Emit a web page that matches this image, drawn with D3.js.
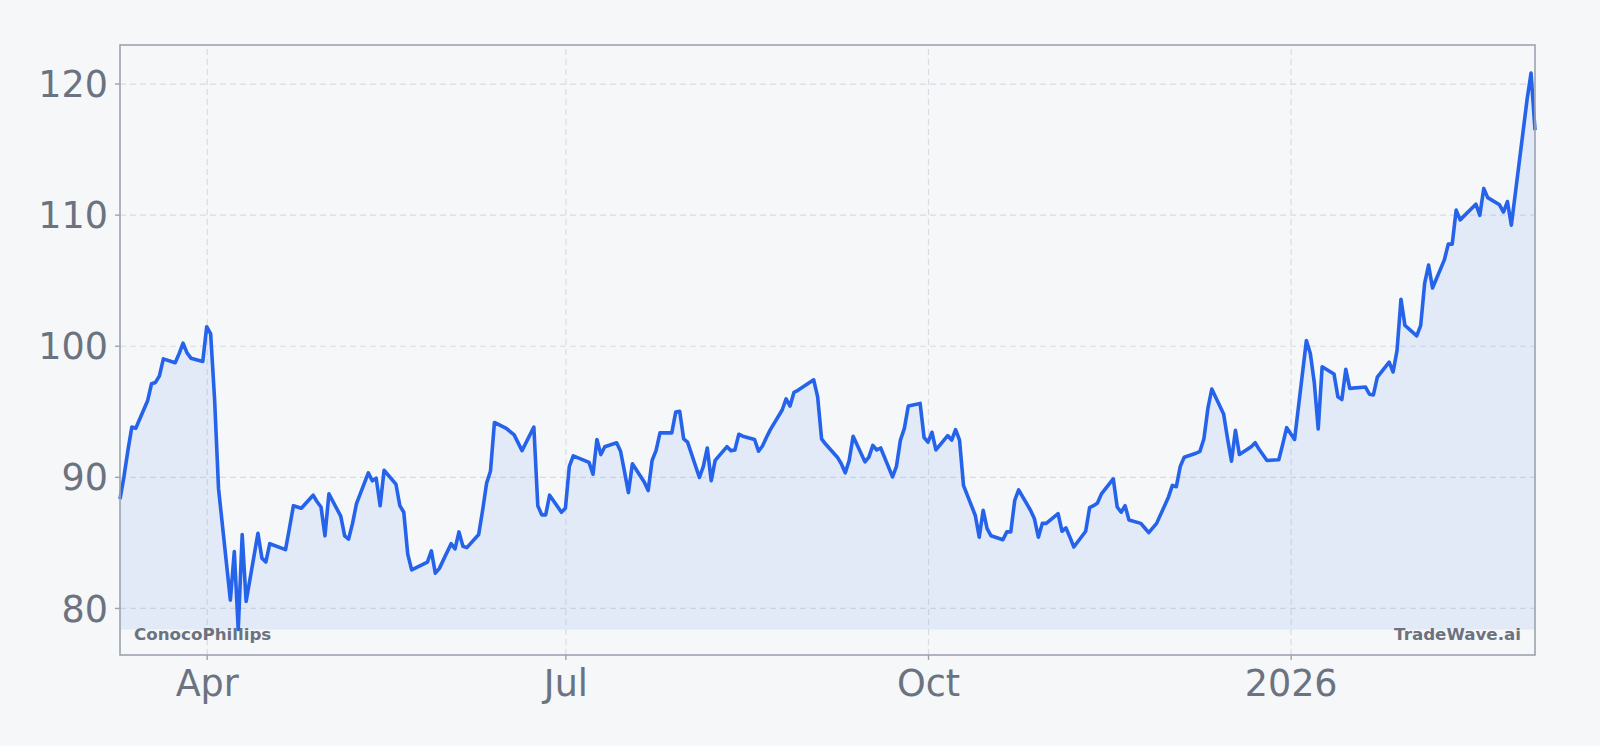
<!DOCTYPE html>
<html lang='en'>
<head>
  <meta charset='UTF-8'>
  <title>ConocoPhillips</title>
  <style>
    body { margin: 0; background: #f5f7f9; }
    #chart text { font-family: 'DejaVu Sans', sans-serif; }
    .tick-label { fill: #6b7280; font-size: 36.5px; }
    .grid line { stroke: #d8dce2; stroke-width: 1.2; stroke-dasharray: 6, 4; }
    .brand { fill: #6b7280; font-size: 16.7px; font-weight: bold; }
  </style>
</head>
<body>
<div id='chart'></div>
<script src='https://d3js.org/d3.v7.min.js'></script>
<script>
  // trading days, one line per month
  var dates = [
    '2025-03-10', '2025-03-11', '2025-03-12', '2025-03-13', '2025-03-14', '2025-03-17', '2025-03-18', '2025-03-19', '2025-03-20', '2025-03-21', '2025-03-24', '2025-03-25', '2025-03-26', '2025-03-27', '2025-03-28', '2025-03-31',
    '2025-04-01', '2025-04-02', '2025-04-03', '2025-04-04', '2025-04-07', '2025-04-08', '2025-04-09', '2025-04-10', '2025-04-11', '2025-04-14', '2025-04-15', '2025-04-16', '2025-04-17', '2025-04-21', '2025-04-22', '2025-04-23', '2025-04-24', '2025-04-25', '2025-04-28', '2025-04-29', '2025-04-30',
    '2025-05-01', '2025-05-02', '2025-05-05', '2025-05-06', '2025-05-07', '2025-05-08', '2025-05-09', '2025-05-12', '2025-05-13', '2025-05-14', '2025-05-15', '2025-05-16', '2025-05-19', '2025-05-20', '2025-05-21', '2025-05-22', '2025-05-23', '2025-05-27', '2025-05-28', '2025-05-29', '2025-05-30',
    '2025-06-02', '2025-06-03', '2025-06-04', '2025-06-05', '2025-06-06', '2025-06-09', '2025-06-10', '2025-06-11', '2025-06-12', '2025-06-13', '2025-06-16', '2025-06-17', '2025-06-18', '2025-06-20', '2025-06-23', '2025-06-24', '2025-06-25', '2025-06-26', '2025-06-27', '2025-06-30',
    '2025-07-01', '2025-07-02', '2025-07-03', '2025-07-07', '2025-07-08', '2025-07-09', '2025-07-10', '2025-07-11', '2025-07-14', '2025-07-15', '2025-07-16', '2025-07-17', '2025-07-18', '2025-07-21', '2025-07-22', '2025-07-23', '2025-07-24', '2025-07-25', '2025-07-28', '2025-07-29', '2025-07-30', '2025-07-31',
    '2025-08-01', '2025-08-04', '2025-08-05', '2025-08-06', '2025-08-07', '2025-08-08', '2025-08-11', '2025-08-12', '2025-08-13', '2025-08-14', '2025-08-15', '2025-08-18', '2025-08-19', '2025-08-20', '2025-08-21', '2025-08-22', '2025-08-25', '2025-08-26', '2025-08-27', '2025-08-28', '2025-08-29',
    '2025-09-02', '2025-09-03', '2025-09-04', '2025-09-05', '2025-09-08', '2025-09-09', '2025-09-10', '2025-09-11', '2025-09-12', '2025-09-15', '2025-09-16', '2025-09-17', '2025-09-18', '2025-09-19', '2025-09-22', '2025-09-23', '2025-09-24', '2025-09-25', '2025-09-26', '2025-09-29', '2025-09-30',
    '2025-10-01', '2025-10-02', '2025-10-03', '2025-10-06', '2025-10-07', '2025-10-08', '2025-10-09', '2025-10-10', '2025-10-13', '2025-10-14', '2025-10-15', '2025-10-16', '2025-10-17', '2025-10-20', '2025-10-21', '2025-10-22', '2025-10-23', '2025-10-24', '2025-10-27', '2025-10-28', '2025-10-29', '2025-10-30', '2025-10-31',
    '2025-11-03', '2025-11-04', '2025-11-05', '2025-11-06', '2025-11-07', '2025-11-10', '2025-11-11', '2025-11-12', '2025-11-13', '2025-11-14', '2025-11-17', '2025-11-18', '2025-11-19', '2025-11-20', '2025-11-21', '2025-11-24', '2025-11-25', '2025-11-26', '2025-11-28',
    '2025-12-01', '2025-12-02', '2025-12-03', '2025-12-04', '2025-12-05', '2025-12-08', '2025-12-09', '2025-12-10', '2025-12-11', '2025-12-12', '2025-12-15', '2025-12-16', '2025-12-17', '2025-12-18', '2025-12-19', '2025-12-22', '2025-12-23', '2025-12-24', '2025-12-26', '2025-12-29', '2025-12-30', '2025-12-31',
    '2026-01-02', '2026-01-05', '2026-01-06', '2026-01-07', '2026-01-08', '2026-01-09', '2026-01-12', '2026-01-13', '2026-01-14', '2026-01-15', '2026-01-16', '2026-01-20', '2026-01-21', '2026-01-22', '2026-01-23', '2026-01-26', '2026-01-27', '2026-01-28', '2026-01-29', '2026-01-30',
    '2026-02-02', '2026-02-03', '2026-02-04', '2026-02-05', '2026-02-06', '2026-02-09', '2026-02-10', '2026-02-11', '2026-02-12', '2026-02-13', '2026-02-17', '2026-02-18', '2026-02-19', '2026-02-20', '2026-02-23', '2026-02-24', '2026-02-25', '2026-02-26', '2026-02-27',
    '2026-03-02', '2026-03-03', '2026-03-04'
  ]

  // closing prices, same order as dates
  var closes = [
    88.3, 90.0, 92.0, 93.8, 93.7, 95.8, 97.1, 97.2, 97.7, 99.0, 98.7, 99.4, 100.2, 99.45, 99.05, 98.8,
    101.45, 100.9, 95.9, 89.1, 80.6, 84.3, 78.35, 85.6, 80.5, 85.7, 83.8, 83.5, 84.9, 84.45, 86.1, 87.8, 87.7, 87.6, 88.6, 88.1, 87.7,
    85.5, 88.7, 87.0, 85.5, 85.25, 86.45, 87.95, 90.3, 89.7, 89.9, 87.8, 90.5, 89.45, 87.8, 87.3, 84.1, 82.9, 83.5, 84.35, 82.65, 83.0,
    84.9, 84.5, 85.8, 84.7, 84.6, 85.6, 87.45, 89.5, 90.45, 94.15, 93.7, 93.45, 93.2, 92.0, 93.8, 87.8, 87.1, 87.1, 88.6, 87.3,
    87.6, 90.8, 91.6, 91.1, 90.2, 92.85, 91.7, 92.3, 92.6, 91.95, 90.4, 88.8, 91.0, 89.6, 88.95, 91.25, 92.0, 93.35, 93.35, 94.95, 95.0, 92.9,
    92.65, 89.95, 90.8, 92.2, 89.7, 91.25, 92.3, 92.0, 92.05, 93.25, 93.1, 92.85, 91.95, 92.35, 93.0, 93.6, 95.1, 95.95, 95.4, 96.45, 96.6,
    97.4, 96.1, 92.9, 92.5, 91.5, 91.0, 90.3, 91.25, 93.1, 91.15, 91.5, 92.4, 92.05, 92.2, 90.0, 90.8, 92.8, 93.7, 95.4, 95.6, 93.0,
    92.65, 93.4, 92.05, 93.15, 92.8, 93.6, 92.8, 89.35, 87.05, 85.4, 87.45, 86.05, 85.5, 85.2, 85.8, 85.8, 88.2, 89.0, 87.45, 86.8, 85.4, 86.45, 86.45,
    87.2, 85.85, 86.1, 85.4, 84.65, 85.85, 87.65, 87.8, 88.0, 88.7, 89.85, 87.7, 87.3, 87.8, 86.7, 86.45, 86.1, 85.75, 86.45,
    88.45, 89.35, 89.25, 90.8, 91.5, 91.8, 91.95, 92.9, 95.2, 96.7, 94.8, 92.9, 91.2, 93.55, 91.7, 92.3, 92.6, 92.1, 91.25, 91.3, 92.5, 93.75,
    92.85, 100.4, 99.4, 97.2, 93.65, 98.4, 97.85, 96.1, 95.9, 98.2, 96.75, 96.85, 96.3, 96.25, 97.6, 98.75, 98.0, 99.65, 103.55, 101.55,
    100.75, 101.55, 104.75, 106.15, 104.4, 106.55, 107.75, 107.75, 110.35, 109.6, 110.8, 109.95, 112.0, 111.3, 110.75, 110.2, 111.0, 109.2, 111.6,
    118.8, 120.8, 116.45
  ]

  var yTicks = [80, 90, 100, 110, 120]
  var xTicks = ['2025-04-01', '2025-07-01', '2025-10-01', '2026-01-01']
  var xTickLabels = ['Apr', 'Jul', 'Oct', '2026']
  var leftLabel = 'ConocoPhillips'
  var rightLabel = 'TradeWave.ai'

  var width = 1600
  var height = 746
  var margin = {top: 45, right: 65, bottom: 91, left: 120}
  var innerW = width - margin.left - margin.right
  var innerH = height - margin.top - margin.bottom

  var parse = d3.timeParse('%Y-%m-%d')
  var data = dates.map(function (d, i) { return {date: parse(d), close: closes[i]} })

  var x = d3.scaleTime()
    .domain(d3.extent(data, function (d) { return d.date }))
    .range([0, innerW])

  var y = d3.scaleLinear()
    .domain([76.41, 122.94])
    .range([innerH, 0])

  var svg = d3.select('#chart').append('svg')
    .attr('width', width)
    .attr('height', height)
    .style('display', 'block')

  svg.append('rect').attr('width', width).attr('height', height).attr('fill', '#f5f7f9')

  var g = svg.append('g').attr('transform', 'translate(' + margin.left + ',' + margin.top + ')')

  // grid
  g.append('g').attr('class', 'grid')
    .call(d3.axisLeft(y).tickValues(yTicks).tickSize(-innerW).tickFormat(''))
    .call(function (s) { s.select('.domain').remove() })

  g.append('g').attr('class', 'grid')
    .attr('transform', 'translate(0,' + innerH + ')')
    .call(d3.axisBottom(x).tickValues(xTicks.map(parse)).tickSize(-innerH).tickFormat(''))
    .call(function (s) { s.select('.domain').remove() })

  // area down to the lowest close, then the line
  var base = y(d3.min(closes))
  var area = d3.area()
    .x(function (d) { return x(d.date) })
    .y0(base)
    .y1(function (d) { return y(d.close) })

  var line = d3.line()
    .x(function (d) { return x(d.date) })
    .y(function (d) { return y(d.close) })

  g.append('path').datum(data)
    .attr('d', area)
    .attr('fill', '#3b82f6')
    .attr('fill-opacity', 0.1)

  g.append('path').datum(data)
    .attr('d', line)
    .attr('fill', 'none')
    .attr('stroke', '#2563eb')
    .attr('stroke-width', 3.6)
    .attr('stroke-linejoin', 'round')

  // axes
  var yAxis = g.append('g')
    .call(d3.axisLeft(y).tickValues(yTicks).tickSize(5).tickPadding(7))
  var xAxis = g.append('g')
    .attr('transform', 'translate(0,' + innerH + ')')
    .call(d3.axisBottom(x).tickValues(xTicks.map(parse)).tickSize(5).tickPadding(8)
      .tickFormat(function (d, i) { return xTickLabels[i] }))

  ;[yAxis, xAxis].forEach(function (a) {
    a.select('.domain').remove()
    a.selectAll('.tick line').attr('stroke', '#9ca3af').attr('stroke-width', 1.4)
    a.selectAll('.tick text').attr('class', 'tick-label').attr('fill', null)
  })
  yAxis.selectAll('.tick text').attr('dy', '0.36em')
  xAxis.selectAll('.tick text').attr('dy', '0.76em')

  // frame
  g.append('rect')
    .attr('width', innerW)
    .attr('height', innerH)
    .attr('fill', 'none')
    .attr('stroke', '#9ca3af')
    .attr('stroke-width', 1.6)

  g.append('text').attr('class', 'brand')
    .attr('x', 14).attr('y', innerH - 15)
    .text(leftLabel)

  g.append('text').attr('class', 'brand')
    .attr('x', innerW - 14).attr('y', innerH - 15)
    .attr('text-anchor', 'end')
    .text(rightLabel)
</script>
</body>
</html>
